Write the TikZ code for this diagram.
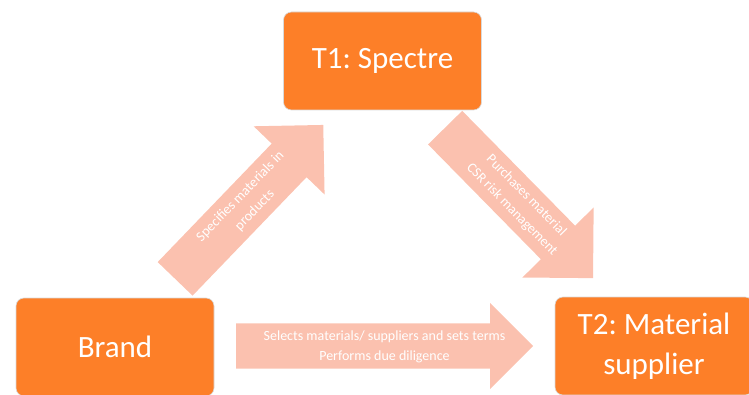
\documentclass[tikz,border=0pt]{standalone}
\usepackage{fontspec}
\setmainfont{Carlito}
\frenchspacing
\usetikzlibrary{positioning,shapes.arrows,calc}
\definecolor{boxorange}{RGB}{253,127,40}
\definecolor{arrowpink}{RGB}{251,193,175}
\tikzset{
  party/.style={rectangle, rounded corners=8pt, fill=boxorange, draw=black!15,
    line width=0.6pt, minimum width=198pt, minimum height=98pt, text=white,
    align=center, font=\fontsize{31}{40}\selectfont},
  flowarrow/.style={single arrow, fill=arrowpink, draw=none,
    single arrow tip angle=90, inner xsep=0pt, anchor=tail},
  arrowtext/.style={text=white, align=center, inner sep=0pt,
    font=\fontsize{14}{20}\selectfont},
}

\begin{document}
\begin{tikzpicture}[x=1pt, y=-1pt]
        \useasboundingbox (0,0) rectangle (749,395);
        \clip (0,0) rectangle (749,395);

        % ends of the fat arrows
        \coordinate (specTail) at (175,279);
        \coordinate (specTip) at (323,125);
        \coordinate (buyTail) at (445,127.5);
        \coordinate (buyTip) at (593,278);
        \coordinate (selTail) at (236,346);
        \coordinate (selTip) at (533,346);

        % Brand -> T1
        \node [flowarrow, rotate=46.1, minimum height=213.6pt, inner ysep=24pt,
            single arrow head extend=25pt] (specArrow) at (specTail) {};
        \node [arrowtext, rotate=46.1] (specText) at ($(specTail)!0.49!(specTip)$)
            {Specifies materials in\\products};

        % T1 -> T2
        \node [flowarrow, rotate=-45.5, minimum height=211pt, inner ysep=23.75pt,
            single arrow head extend=26pt] (buyArrow) at (buyTail) {};
        \node [arrowtext, rotate=-45.5] (buyText) at ($(buyTail)!0.5!(buyTip)$)
            {Purchases material\\CSR risk management};

        % Brand -> T2
        \node [flowarrow, minimum height=297pt, inner ysep=22.5pt,
            single arrow head extend=20.5pt] (selArrow) at (selTail) {};
        \node [arrowtext] (selText) at ($(selTail)!0.5!(selTip)+(0,1)$)
            {Selects materials/ suppliers and sets terms\\Performs due diligence};

        % the three parties
        \node [party] (t1) at (382.5,61) {T1: Spectre};
        \node [party] (brand) at (115,347) {Brand};
        \node [party] (t2) at (654,346) {T2: Material\\supplier};
\end{tikzpicture}
\end{document}
